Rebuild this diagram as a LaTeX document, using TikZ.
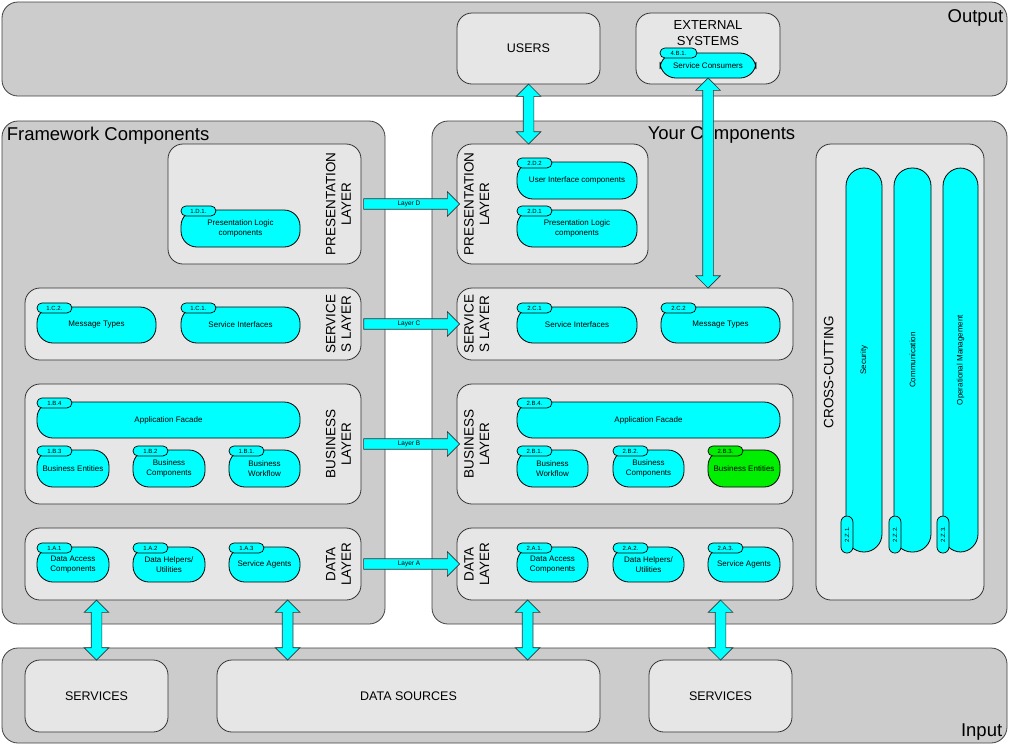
\documentclass[tikz,border=0pt]{standalone}
\usepackage{fontspec}
\setmainfont{Liberation Sans}
\usetikzlibrary{positioning,fit,calc,shapes.arrows}
\definecolor{panelgray}{HTML}{CCCCCC}
\definecolor{boxgray}{HTML}{E6E6E6}
\definecolor{aqua}{HTML}{00FFFF}
\definecolor{entitygreen}{HTML}{00EE00}
\begin{document}
\begin{tikzpicture}
[x=1pt, y=-1pt, inner sep=0pt,
panel/.style={draw=black!75, line width=0.8pt, fill=panelgray, rounded corners=16pt},
box/.style={draw=black!80, line width=0.8pt, fill=boxgray, rounded corners=15pt},
boxtxt/.style={label={[font=\fontsize{12.5}{15}\selectfont]center:#1}},
comp/.style={draw=black, line width=0.8pt, fill=aqua, rounded corners=16pt},
comptxt/.style={label={[align=center, font=\fontsize{8}{10}\selectfont]center:#1}},
vtxt/.style={label={[rotate=90, font=\fontsize{8}{10}\selectfont]center:#1}},
tab/.style={draw=black, line width=0.7pt, fill=aqua, rounded corners=5pt, minimum width=35pt, minimum height=10pt, font=\fontsize{6}{6}\selectfont},
vtab/.style={tab, minimum width=12pt, minimum height=37pt, rounded corners=6pt, anchor=south west},
bigtext/.style={font=\fontsize{18.5}{20}\selectfont},
layertext/.style={rotate=90, align=center, font=\fontsize{13.5}{15.5}\selectfont},
vdouble/.style={double arrow, draw=black!80, line width=0.7pt, fill=aqua, double arrow head extend=7pt, inner ysep=5pt, inner xsep=0pt, minimum width=24pt, rotate=90},
layerarrow/.style={single arrow, draw=black!80, line width=0.7pt, fill=aqua, single arrow head extend=7pt, inner ysep=2pt, minimum width=24pt, minimum height=96pt, font=\fontsize{6.5}{6.5}\selectfont}]
\useasboundingbox[fill=white] (0,0) rectangle (1009,745);

% output
\node[panel, fit={(2,2) (1007,96)}] (output) {};
\node[bigtext, anchor=north east] (outlbl) at ([xshift=-4pt, yshift=-8pt]output.north east) {Output};
\node[box, fit={(457,13) (600,84)}, boxtxt=USERS] (users) {};
\node[box, fit={(636,13) (780,84)}] (ext) {};
\node[font=\fontsize{13}{15.5}\selectfont, align=center, below=8pt of ext.north] (extlbl) {EXTERNAL\\SYSTEMS};
\node[comp, fit={(660,53) (756,78)}, comptxt=Service Consumers] (sc) {};
\node[tab, minimum width=37pt, anchor=north west] (sct) at ([yshift=5pt]sc.north west) {4.B.1.};

% framework components
\node[panel, fit={(2,121) (385,624)}] (fw) {};
\node[bigtext, anchor=north west] (fwlbl) at ([xshift=5pt, yshift=-6pt]fw.north west) {Framework Components};
\node[box, fit={(168,144) (361,264)}] (fpres) {};
\node[layertext] (fpreslbl) at ([xshift=-23pt]fpres.east) {PRESENTATION\\LAYER};
\node[comp, fit={(181,210) (300,247)}, comptxt={Presentation Logic\\components}] (fd1) {};
\node[tab, anchor=north west] (fd1t) at ([yshift=4pt]fd1.north west) {1.D.1.};
\node[box, fit={(25,288) (361,360)}] (fserv) {};
\node[layertext] (fservlbl) at ([xshift=-23pt]fserv.east) {SERVICE\\S LAYER};
\node[comp, fit={(37,307) (156,343)}, comptxt=Message Types] (fc2) {};
\node[tab, anchor=north west] (fc2t) at ([yshift=4pt]fc2.north west) {1.C.2.};
\node[comp, fit={(181,307) (300,343)}, comptxt=Service Interfaces] (fc1) {};
\node[tab, anchor=north west] (fc1t) at ([yshift=4pt]fc1.north west) {1.C.1.};
\node[box, fit={(25,384) (361,504)}] (fbus) {};
\node[layertext] (fbuslbl) at ([xshift=-23pt]fbus.east) {BUSINESS\\LAYER};
\node[comp, fit={(37,402) (300,438)}, comptxt=Application Facade] (fb4) {};
\node[tab, anchor=north west] (fb4t) at ([yshift=4pt]fb4.north west) {1.B.4};
\node[comp, fit={(37,450) (109,487)}, comptxt=Business Entities] (fb3) {};
\node[tab, anchor=north west] (fb3t) at ([yshift=4pt]fb3.north west) {1.B.3};
\node[comp, fit={(133,450) (205,487)}, comptxt={Business\\Components}] (fb2) {};
\node[tab, anchor=north west] (fb2t) at ([yshift=4pt]fb2.north west) {1.B.2};
\node[comp, fit={(229,450) (300,487)}, comptxt={Business\\Workflow}] (fb1) {};
\node[tab, anchor=north west] (fb1t) at ([yshift=4pt]fb1.north west) {1.B.1.};
\node[box, fit={(25,528) (361,600)}] (fdata) {};
\node[layertext] (fdatalbl) at ([xshift=-23pt]fdata.east) {DATA\\LAYER};
\node[comp, fit={(37,547) (109,582)}, comptxt={Data Access\\Components}] (fa1) {};
\node[tab, anchor=north west] (fa1t) at ([yshift=4pt]fa1.north west) {1.A.1};
\node[comp, fit={(133,547) (205,582)}, comptxt={Data Helpers/\\Utilities}] (fa2) {};
\node[tab, anchor=north west] (fa2t) at ([yshift=4pt]fa2.north west) {1.A.2};
\node[comp, fit={(229,547) (300,582)}, comptxt=Service Agents] (fa3) {};
\node[tab, anchor=north west] (fa3t) at ([yshift=4pt]fa3.north west) {1.A.3};

% your components
\node[panel, fit={(432,121) (1007,624)}] (yours) {};
\node[bigtext, anchor=north east] (yourslbl) at ([xshift=-212pt, yshift=-6pt]yours.north east) {Your Components};
\node[box, fit={(457,144) (648,264)}] (ypres) {};
\node[layertext] (ypreslbl) at ([xshift=20pt]ypres.west) {PRESENTATION\\LAYER};
\node[comp, fit={(517,162) (637,199)}, comptxt=User Interface components] (yd2) {};
\node[tab, anchor=north west] (yd2t) at ([yshift=4pt]yd2.north west) {2.D.2};
\node[comp, fit={(517,210) (637,247)}, comptxt={Presentation Logic\\components}] (yd1) {};
\node[tab, anchor=north west] (yd1t) at ([yshift=4pt]yd1.north west) {2.D.1};
\node[box, fit={(457,288) (793,360)}] (yserv) {};
\node[layertext] (yservlbl) at ([xshift=20pt]yserv.west) {SERVICE\\S LAYER};
\node[comp, fit={(517,307) (637,343)}, comptxt=Service Interfaces] (yc1) {};
\node[tab, anchor=north west] (yc1t) at ([yshift=4pt]yc1.north west) {2.C.1};
\node[comp, fit={(661,307) (780,343)}, comptxt=Message Types] (yc2) {};
\node[tab, anchor=north west] (yc2t) at ([yshift=4pt]yc2.north west) {2.C.2};
\node[box, fit={(457,384) (793,504)}] (ybus) {};
\node[layertext] (ybuslbl) at ([xshift=20pt]ybus.west) {BUSINESS\\LAYER};
\node[comp, fit={(517,402) (780,438)}, comptxt=Application Facade] (yb4) {};
\node[tab, anchor=north west] (yb4t) at ([yshift=4pt]yb4.north west) {2.B.4.};
\node[comp, fit={(517,450) (588,487)}, comptxt={Business\\Workflow}] (yb1) {};
\node[tab, anchor=north west] (yb1t) at ([yshift=4pt]yb1.north west) {2.B.1.};
\node[comp, fit={(613,450) (684,487)}, comptxt={Business\\Components}] (yb2) {};
\node[tab, anchor=north west] (yb2t) at ([yshift=4pt]yb2.north west) {2.B.2.};
\node[comp, fill=entitygreen, fit={(708,450) (780,487)}, comptxt=Business Entities] (yb3) {};
\node[tab, fill=entitygreen, anchor=north west] (yb3t) at ([yshift=4pt]yb3.north west) {2.B.3.};
\node[box, fit={(457,528) (793,600)}] (ydata) {};
\node[layertext] (ydatalbl) at ([xshift=20pt]ydata.west) {DATA\\LAYER};
\node[comp, fit={(517,547) (588,582)}, comptxt={Data Access\\Components}] (ya1) {};
\node[tab, anchor=north west] (ya1t) at ([yshift=4pt]ya1.north west) {2.A.1.};
\node[comp, fit={(613,547) (684,582)}, comptxt={Data Helpers/\\Utilities}] (ya2) {};
\node[tab, anchor=north west] (ya2t) at ([yshift=4pt]ya2.north west) {2.A.2.};
\node[comp, fit={(708,547) (780,582)}, comptxt=Service Agents] (ya3) {};
\node[tab, anchor=north west] (ya3t) at ([yshift=4pt]ya3.north west) {2.A.3.};

% cross-cutting
\node[box, fit={(816,144) (984,600)}] (cross) {};
\node[layertext] (crosslbl) at ([xshift=13pt]cross.west) {CROSS-CUTTING};
\node[comp, rounded corners=18pt, fit={(846,168) (882,552)}, vtxt=Security] (zz1) {};
\node[vtab] (zz1t) at ([xshift=-5pt, yshift=-1pt]zz1.south west) {\rotatebox{90}{2.Z.1.}};
\node[comp, rounded corners=18pt, fit={(894,168) (931,552)}, vtxt=Communication] (zz2) {};
\node[vtab] (zz2t) at ([xshift=-5pt, yshift=-1pt]zz2.south west) {\rotatebox{90}{2.Z.2.}};
\node[comp, rounded corners=18pt, fit={(943,168) (978,552)}, vtxt=Operational Management] (zz3) {};
\node[vtab] (zz3t) at ([xshift=-6pt, yshift=-1pt]zz3.south west) {\rotatebox{90}{2.Z.3.}};

% input
\node[panel, fit={(2,648) (1007,743)}] (input) {};
\node[bigtext, anchor=south east] (inlbl) at ([xshift=-5pt, yshift=3pt]input.south east) {Input};
\node[box, fit={(25,660) (168,732)}, boxtxt=SERVICES] (svc1) {};
\node[box, fit={(217,660) (600,732)}, boxtxt=DATA SOURCES] (dsrc) {};
\node[box, fit={(649,660) (792,732)}, boxtxt=SERVICES] (svc2) {};

% layer arrows
\node[layerarrow] (layd) at ($(fpres.east)!.5!(ypres.west)$) {Layer D};
\node[layerarrow] (layc) at ($(fserv.east)!.5!(yserv.west)$) {Layer C};
\node[layerarrow] (layb) at ($(fbus.east)!.5!(ybus.west)$) {Layer B};
\node[layerarrow] (laya) at ($(fdata.east)!.5!(ydata.west)$) {Layer A};

% up/down arrows
\coordinate (ds1) at ([xshift=71pt]dsrc.north west);
\coordinate (ds2) at ([xshift=311pt]dsrc.north west);
\node[vdouble, minimum height=60pt] (usersarr) at ($(users.south)!.5!(users.south |- ypres.north)$) {};
\node[vdouble, minimum height=210pt] (extarr) at ($(sc.south)!.5!(sc.south |- yserv.north)$) {};
\node[vdouble, minimum height=60pt] (inarr1) at ($(svc1.north)!.5!(svc1.north |- fdata.south)$) {};
\node[vdouble, minimum height=60pt] (inarr2) at ($(ds1)!.5!(ds1 |- fdata.south)$) {};
\node[vdouble, minimum height=60pt] (inarr3) at ($(ds2)!.5!(ds2 |- ydata.south)$) {};
\node[vdouble, minimum height=60pt] (inarr4) at ($(svc2.north)!.5!(svc2.north |- ydata.south)$) {};

\end{tikzpicture}
\end{document}
